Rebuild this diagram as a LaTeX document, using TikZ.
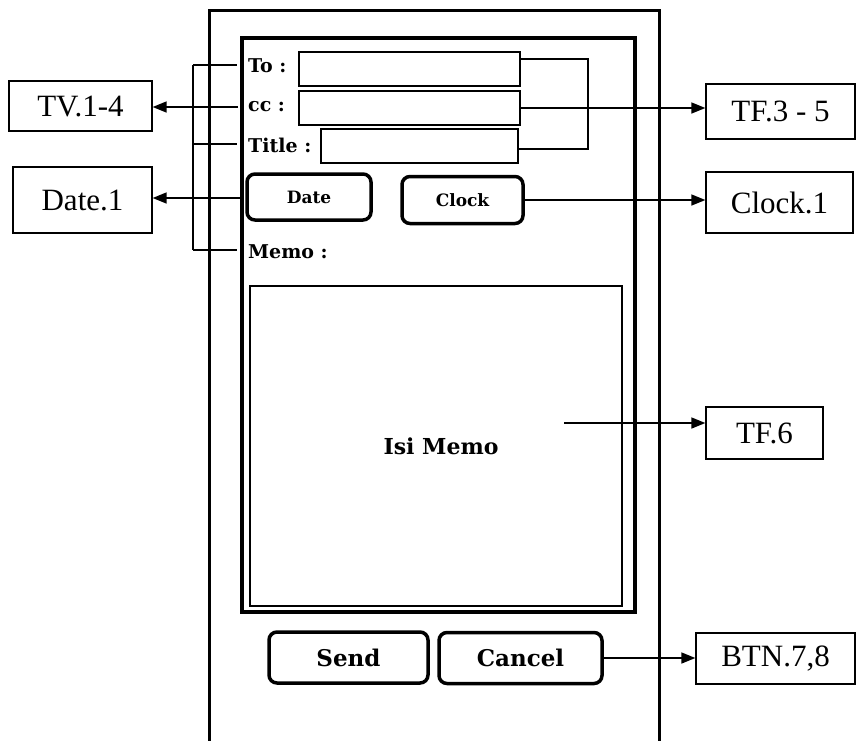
\documentclass[tikz,border=0pt]{standalone}
\usepackage{fontspec}
\setmainfont{Liberation Serif}
\newfontfamily\uifont{DejaVu Serif}
\usetikzlibrary{arrows.meta}
\begin{document}
\begin{tikzpicture}[x=1pt,y=-1pt,
  note/.style={draw,line width=1.3pt,inner sep=0pt,font=\fontsize{31}{36}\selectfont},
  field/.style={draw,line width=1.3pt,inner sep=0pt},
  btn/.style={draw,line width=3.5pt,rounded corners=8pt,inner sep=0pt},
  lbl/.style={anchor=west,inner sep=0pt,font=\uifont\bfseries\fontsize{19}{22}\selectfont},
  conn/.style={line width=1.6pt},
  arr/.style={line width=1.6pt,-{Triangle[length=14pt,width=11pt]}}]
\useasboundingbox (0,0) rectangle (856,740);
% frames
\draw[line width=3pt] (209,742) -- (209,10) -- (659,10) -- (659,742);
\draw[line width=4.5pt] (242,38) rectangle (635,612);
% labels
\node[lbl] (lto) at (248,66) {To :};
\node[lbl] (lcc) at (248,107) {cc :};
\node[lbl] (ltitle) at (248,145) {Title :};
\node[lbl] (lmemo) at (248,252) {Memo :};
% fields
\node[field,minimum width=221pt,minimum height=34pt] (fto) at (409.5,69) {};
\node[field,minimum width=221pt,minimum height=34pt] (fcc) at (409.5,108) {};
\node[field,minimum width=197pt,minimum height=34pt] (ftitle) at (419.5,146) {};
% buttons
\node[btn,minimum width=124pt,minimum height=46pt,font=\uifont\bfseries\fontsize{17}{20}\selectfont] (date) at (309,197) {Date};
\node[btn,minimum width=121pt,minimum height=47pt,font=\uifont\bfseries\fontsize{17}{20}\selectfont] (clock) at (462.5,200) {Clock};
\node[btn,minimum width=159pt,minimum height=51pt,font=\uifont\bfseries\fontsize{23}{27}\selectfont] (send) at (348.5,657.5) {Send};
\node[btn,minimum width=163pt,minimum height=51pt,font=\uifont\bfseries\fontsize{23}{27}\selectfont] (cancel) at (520.5,658) {Cancel};
% memo box
\node[draw,line width=1.3pt,minimum width=372pt,minimum height=320pt,inner sep=0pt] (memo) at (436,446) {};
\node[inner sep=0pt,font=\uifont\bfseries\fontsize{22}{26}\selectfont] (isi) at (441,446) {Isi Memo};
% notes
\node[note,minimum width=143pt,minimum height=50pt] (tv) at (80.5,106) {TV.1-4};
\node[note,minimum width=139pt,minimum height=66pt] (dt) at (82.5,200) {Date.1};
\node[note,minimum width=149pt,minimum height=55pt] (tf35) at (780.5,111.5) {TF.3 - 5};
\node[note,minimum width=147pt,minimum height=61pt] (ck) at (779.5,202.5) {Clock.1};
\node[note,minimum width=117pt,minimum height=52pt] (tf6) at (764.5,433) {TF.6};
\node[note,minimum width=159pt,minimum height=51pt] (bt) at (775.5,658.5) {BTN.7,8};
% left bracket
\coordinate (bTop) at (193,65);
\coordinate (bBot) at (193,250);
\coordinate (tTo) at (237,65);
\coordinate (tTitle) at (237,144);
\coordinate (tMemo) at (237,250);
\coordinate (ccL) at (238,107);
\coordinate (dtL) at (240,198);
\draw[conn] (bTop) -- (bBot);
\draw[conn] (bTop) -- (tTo);
\draw[conn] (bTop |- tTitle) -- (tTitle);
\draw[conn] (bBot) -- (tMemo);
\draw[arr] (ccL) -- (ccL -| tv.east);
\draw[arr] (dtL) -- (dtL -| dt.east);
% right bracket
\coordinate (rTop) at (588,59);
\coordinate (rBot) at (588,149);
\draw[conn] (fto.east |- rTop) -- (rTop) -- (rBot) -- (ftitle.east |- rBot);
\draw[arr] (fcc.east) -- (fcc.east -| tf35.west);
\draw[arr] (clock.east) -- (clock.east -| ck.west);
\coordinate (memoPt) at (564,423);
\draw[arr] (memoPt) -- (memoPt -| tf6.west);
\draw[arr] (cancel.east) -- (cancel.east -| bt.west);
\end{tikzpicture}
\end{document}
